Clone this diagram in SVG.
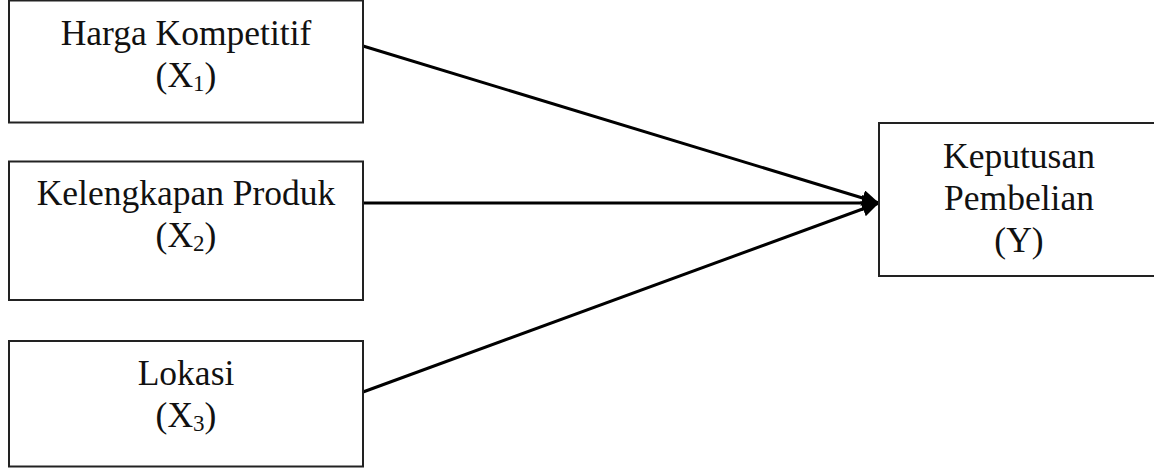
<svg xmlns="http://www.w3.org/2000/svg" width="1154" height="468" viewBox="0 0 1154 468">
<style>
.box{fill:#fff;stroke:#222;stroke-width:2}
.t{font-family:"Liberation Serif","Times New Roman",serif;font-size:35.5px;fill:#111;text-anchor:middle}
.sub{font-size:23px}
.edge{stroke:#000;stroke-width:3;fill:none}
</style>
<defs>
<marker id="arr" markerUnits="userSpaceOnUse" markerWidth="20" markerHeight="18" refX="17" refY="8" orient="auto">
<path d="M0,0 L17,8 L0,16 z" fill="#000"/>
</marker>
</defs>
<rect width="1154" height="468" fill="#fff"/>
<g id="connectors">
<line class="edge" x1="363" y1="46" x2="879" y2="203" marker-end="url(#arr)"/>
<line class="edge" x1="363" y1="203" x2="879" y2="203" marker-end="url(#arr)"/>
<line class="edge" x1="363" y1="392" x2="879" y2="203" marker-end="url(#arr)"/>
</g>
<g id="x1">
<rect class="box" x="9" y="0.5" width="354" height="122"/>
<text class="t" x="186" y="45">Harga Kompetitif</text>
<text class="t" x="186" y="87">(X<tspan class="sub" dy="4">1</tspan><tspan dy="-4">)</tspan></text>
</g>
<g id="x2">
<rect class="box" x="9" y="161.5" width="354" height="138.5"/>
<text class="t" x="186" y="205">Kelengkapan Produk</text>
<text class="t" x="186" y="247">(X<tspan class="sub" dy="4">2</tspan><tspan dy="-4">)</tspan></text>
</g>
<g id="x3">
<rect class="box" x="9" y="341" width="354" height="125.5"/>
<text class="t" x="186" y="385">Lokasi</text>
<text class="t" x="186" y="427">(X<tspan class="sub" dy="4">3</tspan><tspan dy="-4">)</tspan></text>
</g>
<g id="y">
<rect class="box" x="879" y="123" width="290" height="153"/>
<text class="t" x="1019" y="168">Keputusan</text>
<text class="t" x="1019" y="210">Pembelian</text>
<text class="t" x="1019" y="252">(Y)</text>
</g>
</svg>
